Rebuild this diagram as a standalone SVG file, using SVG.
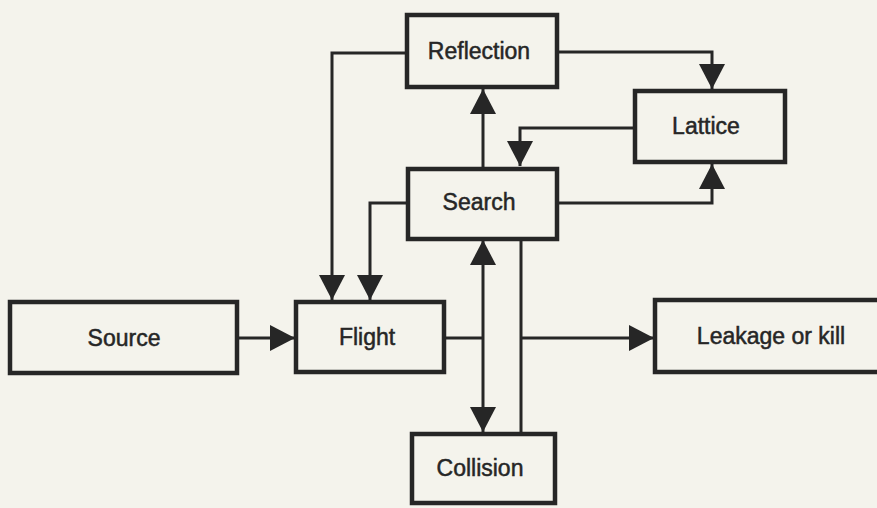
<svg xmlns="http://www.w3.org/2000/svg" width="877" height="508" viewBox="0 0 877 508">
<style>
.box{fill:none;stroke:#262626;stroke-width:4.5}
.lbl{font-family:"Liberation Sans",Arial,sans-serif;font-size:23px;fill:#262626;stroke:#262626;stroke-width:0.5;text-anchor:middle}
.con{fill:none;stroke:#262626;stroke-width:3}
</style>
<defs>
<marker id="ah" markerUnits="userSpaceOnUse" markerWidth="26" markerHeight="26" viewBox="0 0 25 26" refX="25" refY="13" orient="auto">
<path d="M0,0 L25,13 L0,26 z" fill="#262626"/>
</marker>
</defs>
<rect width="877" height="508" fill="#f4f3ec"/>
<g id="connectors">
<path class="con" d="M557,52 H712 V89" marker-end="url(#ah)"/>
<path class="con" d="M635,128 H520 V166" marker-end="url(#ah)"/>
<path class="con" d="M483,167 V89" marker-end="url(#ah)"/>
<path class="con" d="M557,203 H712 V164" marker-end="url(#ah)"/>
<path class="con" d="M407,53 H332 V300" marker-end="url(#ah)"/>
<path class="con" d="M408,203 H370 V300" marker-end="url(#ah)"/>
<path class="con" d="M237,338 H295" marker-end="url(#ah)"/>
<path class="con" d="M444,338 H483"/>
<path class="con" d="M483,338 V240" marker-end="url(#ah)"/>
<path class="con" d="M483,338 V432" marker-end="url(#ah)"/>
<path class="con" d="M521,239 V433"/>
<path class="con" d="M521,338 H654" marker-end="url(#ah)"/>
</g>
<g id="reflection"><rect class="box" x="407" y="15" width="150" height="72"/><text class="lbl" x="479" y="59">Reflection</text></g>
<g id="lattice"><rect class="box" x="635" y="91" width="150" height="71"/><text class="lbl" x="706" y="134">Lattice</text></g>
<g id="search"><rect class="box" x="408" y="169" width="149" height="70"/><text class="lbl" x="479" y="210">Search</text></g>
<g id="source"><rect class="box" x="10" y="302" width="227" height="71"/><text class="lbl" x="124" y="346">Source</text></g>
<g id="flight"><rect class="box" x="296" y="302" width="148" height="70"/><text class="lbl" x="367" y="345">Flight</text></g>
<g id="collision"><rect class="box" x="412" y="434" width="143" height="69"/><text class="lbl" x="480" y="476">Collision</text></g>
<g id="leakage"><rect class="box" x="655" y="300" width="240" height="72"/><text class="lbl" x="771" y="344">Leakage or kill</text></g>
</svg>
